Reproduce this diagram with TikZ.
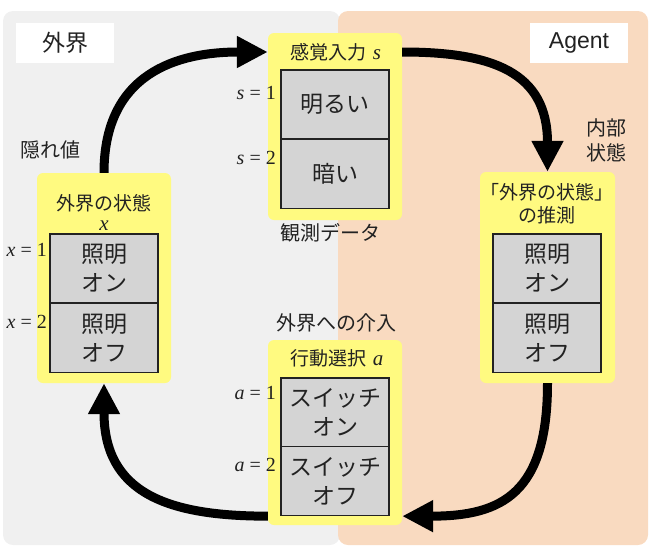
\documentclass[tikz,border=0pt]{standalone}
\usepackage{fontspec}
\setmainfont{Noto Sans CJK JP}
\newfontfamily\agentfont{Liberation Sans}
\newfontfamily\tms{Liberation Serif}
\usetikzlibrary{arrows.meta}
\definecolor{bggray}{RGB}{240,240,240}
\definecolor{peach}{RGB}{249,218,192}
\definecolor{yfill}{RGB}{255,250,128}
\definecolor{cellgray}{RGB}{212,212,212}
\definecolor{ink}{RGB}{34,34,34}
\tikzset{
 ybox/.style={fill=yfill, rounded corners=6pt, minimum width=134pt, inner sep=0pt},
 cell/.style={draw=ink, fill=cellgray, line width=1.3pt, minimum width=108pt, minimum height=69pt, inner sep=0pt, align=center, font=\fontsize{23}{29}\selectfont, text=ink},
 ttl/.style={font=\fontsize{19}{23}\selectfont, text=ink, align=center, inner sep=0pt},
 lbl/.style={font=\fontsize{20}{24}\selectfont, text=ink, align=center, inner sep=0pt},
 vlab/.style={anchor=east, font=\tms\fontsize{20}{22}\selectfont, text=ink, inner sep=0pt},
 flow/.style={line width=9pt, draw=black, -{Triangle[length=31pt,width=30pt]}},
 wbox/.style={fill=white, minimum width=98pt, minimum height=40pt, inner sep=0pt, font=\fontsize{23}{26}\selectfont, text=ink},
}
\begin{document}
\begin{tikzpicture}[x=1pt,y=-1pt]
\useasboundingbox (0,0) rectangle (650,546);
\fill[bggray, rounded corners=10pt] (3,11) rectangle (340,545);
\fill[peach, rounded corners=10pt] (338,11) rectangle (648,545);
\node[wbox] (world) at (65,43) {外界};
\node[wbox, font=\agentfont\fontsize{23}{26}\selectfont] (agent) at (579,43) {Agent};
% yellow boxes
\node[ybox, minimum height=187pt] (S) at (335,126.5) {};
\node[ybox, minimum height=210pt] (L) at (104,278) {};
\node[ybox, minimum width=135pt, minimum height=211pt] (R) at (547.5,277.5) {};
\node[ybox, minimum height=185pt] (A) at (335,432.5) {};
% titles
\node[ttl] (stitle) at (336,52) {感覚入力\hspace{6pt}{\tms\fontsize{21}{23}\selectfont\itshape s}};
\node[ttl, font=\fontsize{19}{20}\selectfont] (ltitle) at (104,212) {外界の状態\\{\tms\fontsize{21}{20}\selectfont\itshape x}};
\node[ttl] (rtitle) at (547,203.5) {「外界の状態」\\の推測};
\node[ttl] (atitle) at (337,358) {行動選択\hspace{6pt}{\tms\fontsize{21}{23}\selectfont\itshape a}};
% cells
\node[cell] (s1) at (335,104.5) {明るい};
\node[cell] (s2) at (335,174) {暗い};
\node[cell] (x1) at (104,268.5) {照明\\オン};
\node[cell] (x2) at (104,338) {照明\\オフ};
\node[cell] (e1) at (547,268.5) {照明\\オン};
\node[cell] (e2) at (547,338) {照明\\オフ};
\node[cell] (a1) at (335,412.5) {スイッチ\\オン};
\node[cell] (a2) at (335,481) {スイッチ\\オフ};
% value labels
\node[vlab] (ls1) at (276,93) {\textit{s} = 1};
\node[vlab] (ls2) at (276,158) {\textit{s} = 2};
\node[vlab] (lx1) at (47,250) {\textit{x} = 1};
\node[vlab] (lx2) at (47,322) {\textit{x} = 2};
\node[vlab] (la1) at (276,393) {\textit{a} = 1};
\node[vlab] (la2) at (276,465) {\textit{a} = 2};
% free labels
\node[lbl] (hidden) at (50,150) {隠れ値};
\node[lbl, font=\fontsize{20}{25}\selectfont] (internal) at (606,140.5) {内部\\状態};
\node[lbl] (obs) at (330,233) {観測データ};
\node[lbl] (interv) at (336,323) {外界への介入};
% arrows
\draw[flow] (L.north) .. controls +(0,-100) and +(-90,0) .. (S.west |- stitle);
\draw[flow] (S.east |- stitle) .. controls +(90,0) and +(0,-100) .. (R.north);
\draw[flow] (R.south) .. controls +(0,110) and +(100,0) .. (A.east |- a2.south);
\draw[flow] (A.west |- a2.south) .. controls +(-100,0) and +(0,110) .. (L.south);
\end{tikzpicture}
\end{document}
